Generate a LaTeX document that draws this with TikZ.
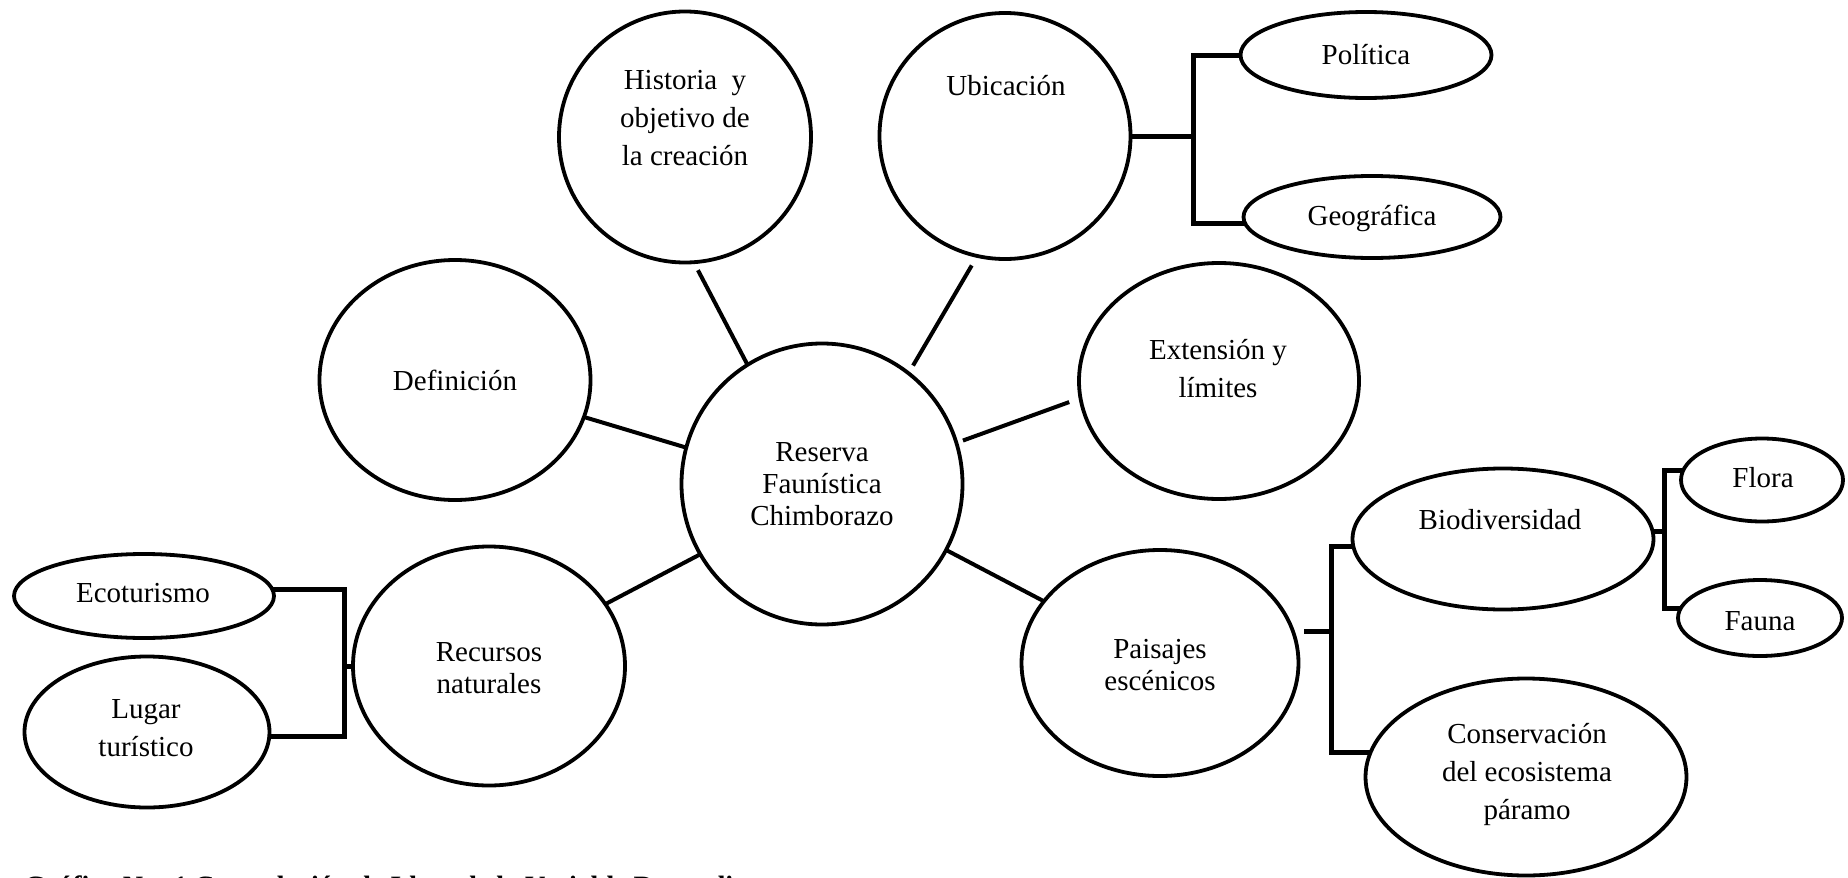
\documentclass[tikz,border=0pt]{standalone}
\usepackage{fontspec}
\setmainfont{Liberation Serif}
\usetikzlibrary{shapes.geometric}
\begin{document}
\begin{tikzpicture}[x=1pt,y=-1pt,
  bub/.style={draw, ellipse, line width=3.8pt, inner sep=0pt, outer sep=0pt},
  txt/.style={font=\fontsize{29}{38}\selectfont, align=center, inner sep=0pt},
  tight/.style={font=\fontsize{29}{32}\selectfont},
  link/.style={line width=4pt},
  brk/.style={line width=5pt}]
\useasboundingbox (0,0) rectangle (1848,878);

% bubbles
\node[bub, minimum width=281pt, minimum height=281pt] (ctr) at (822,484) {};
\node[bub, minimum width=252pt, minimum height=251pt] (hist) at (685,137) {};
\node[bub, minimum width=251pt, minimum height=246pt] (ubic) at (1005,136) {};
\node[bub, minimum width=251pt, minimum height=86pt] (pol) at (1366,55) {};
\node[bub, minimum width=257pt, minimum height=82pt] (geo) at (1372,217) {};
\node[bub, minimum width=271pt, minimum height=240pt] (def) at (455,380) {};
\node[bub, minimum width=280pt, minimum height=236pt] (ext) at (1219,381) {};
\node[bub, minimum width=272pt, minimum height=239pt] (rec) at (489,666) {};
\node[bub, minimum width=260pt, minimum height=84pt] (eco) at (144,596) {};
\node[bub, minimum width=245pt, minimum height=151pt] (lug) at (147,732) {};
\node[bub, minimum width=277pt, minimum height=226pt] (pai) at (1160,663) {};
\node[bub, minimum width=301pt, minimum height=141pt] (bio) at (1503,539) {};
\node[bub, minimum width=162pt, minimum height=83pt] (flora) at (1762,480) {};
\node[bub, minimum width=164pt, minimum height=76pt] (fauna) at (1760,618) {};
\node[bub, minimum width=321pt, minimum height=197pt] (cons) at (1526,777) {};

% texts
\node[txt, tight] (ctr-t) at (822,484) {Reserva\\Faunística\\Chimborazo};
\node[txt] (hist-t) at (685,118) {Historia\ \ y\\objetivo de\\la creación};
\node[txt] (ubic-t) at (1006,86) {Ubicación};
\node[txt] (pol-t) at (1366,55) {Política};
\node[txt] (geo-t) at (1372,218) {Geográfica};
\node[txt] (def-t) at (455,380) {Definición};
\node[txt] (ext-t) at (1218,369) {Extensión y\\límites};
\node[txt, tight] (rec-t) at (489,668) {Recursos\\naturales};
\node[txt] (eco-t) at (143,593) {Ecoturismo};
\node[txt] (lug-t) at (146,728) {Lugar\\turístico};
\node[txt, tight] (pai-t) at (1160,665) {Paisajes\\escénicos};
\node[txt] (bio-t) at (1500,520) {Biodiversidad};
\node[txt] (flora-t) at (1763,478) {Flora};
\node[txt] (fauna-t) at (1760,621) {Fauna};
\node[txt] (cons-t) at (1527,774) {Conservación\\del ecosistema\\páramo};

% spokes
\draw[link, shorten >=9pt] (ctr.122) -- (hist.-86);
\draw[link, shorten <=9pt, shorten >=11pt] (ctr.52) -- (ubic.-103);
\draw[link] (ctr.165) -- (def.-16);
\draw[link, shorten <=7pt, shorten >=12pt] (ctr.17) -- (ext.-173);
\draw[link] (ctr.210) -- (rec.28);
\draw[link] (ctr.-28) -- (pai.152);

% brackets
\coordinate (ubJ) at (1193,137);
\draw[brk] (ubic.east) -- (ubic.east -| ubJ);
\draw[brk] (pol.west) -| (ubJ) |- (geo.183);

\coordinate (recJ) at (344,664);
\draw[brk] (eco.3) -| (recJ) |- (lug.-2);
\draw[brk] (rec.west) -- (rec.west -| recJ);

\coordinate (paiS) at (1304,631);
\coordinate (paiJ) at (1331,631);
\draw[brk] (paiS) -- (paiJ);
\draw[brk] (bio.183) -| (paiJ) |- (cons.171);

\coordinate (bioJ) at (1664,530);
\draw[brk] (bio.3) -- (bio.3 -| bioJ);
\draw[brk] (flora.173) -| (bioJ) |- (fauna.173);

% caption (cut by the lower edge, as in the reference)
\node[anchor=base west, inner sep=0pt, font=\fontsize{28}{30}\selectfont\bfseries] (cap) at (24,895) {Gráfico No. 1 Constelación de Ideas de la Variable Dependiente};
\end{tikzpicture}
\end{document}
